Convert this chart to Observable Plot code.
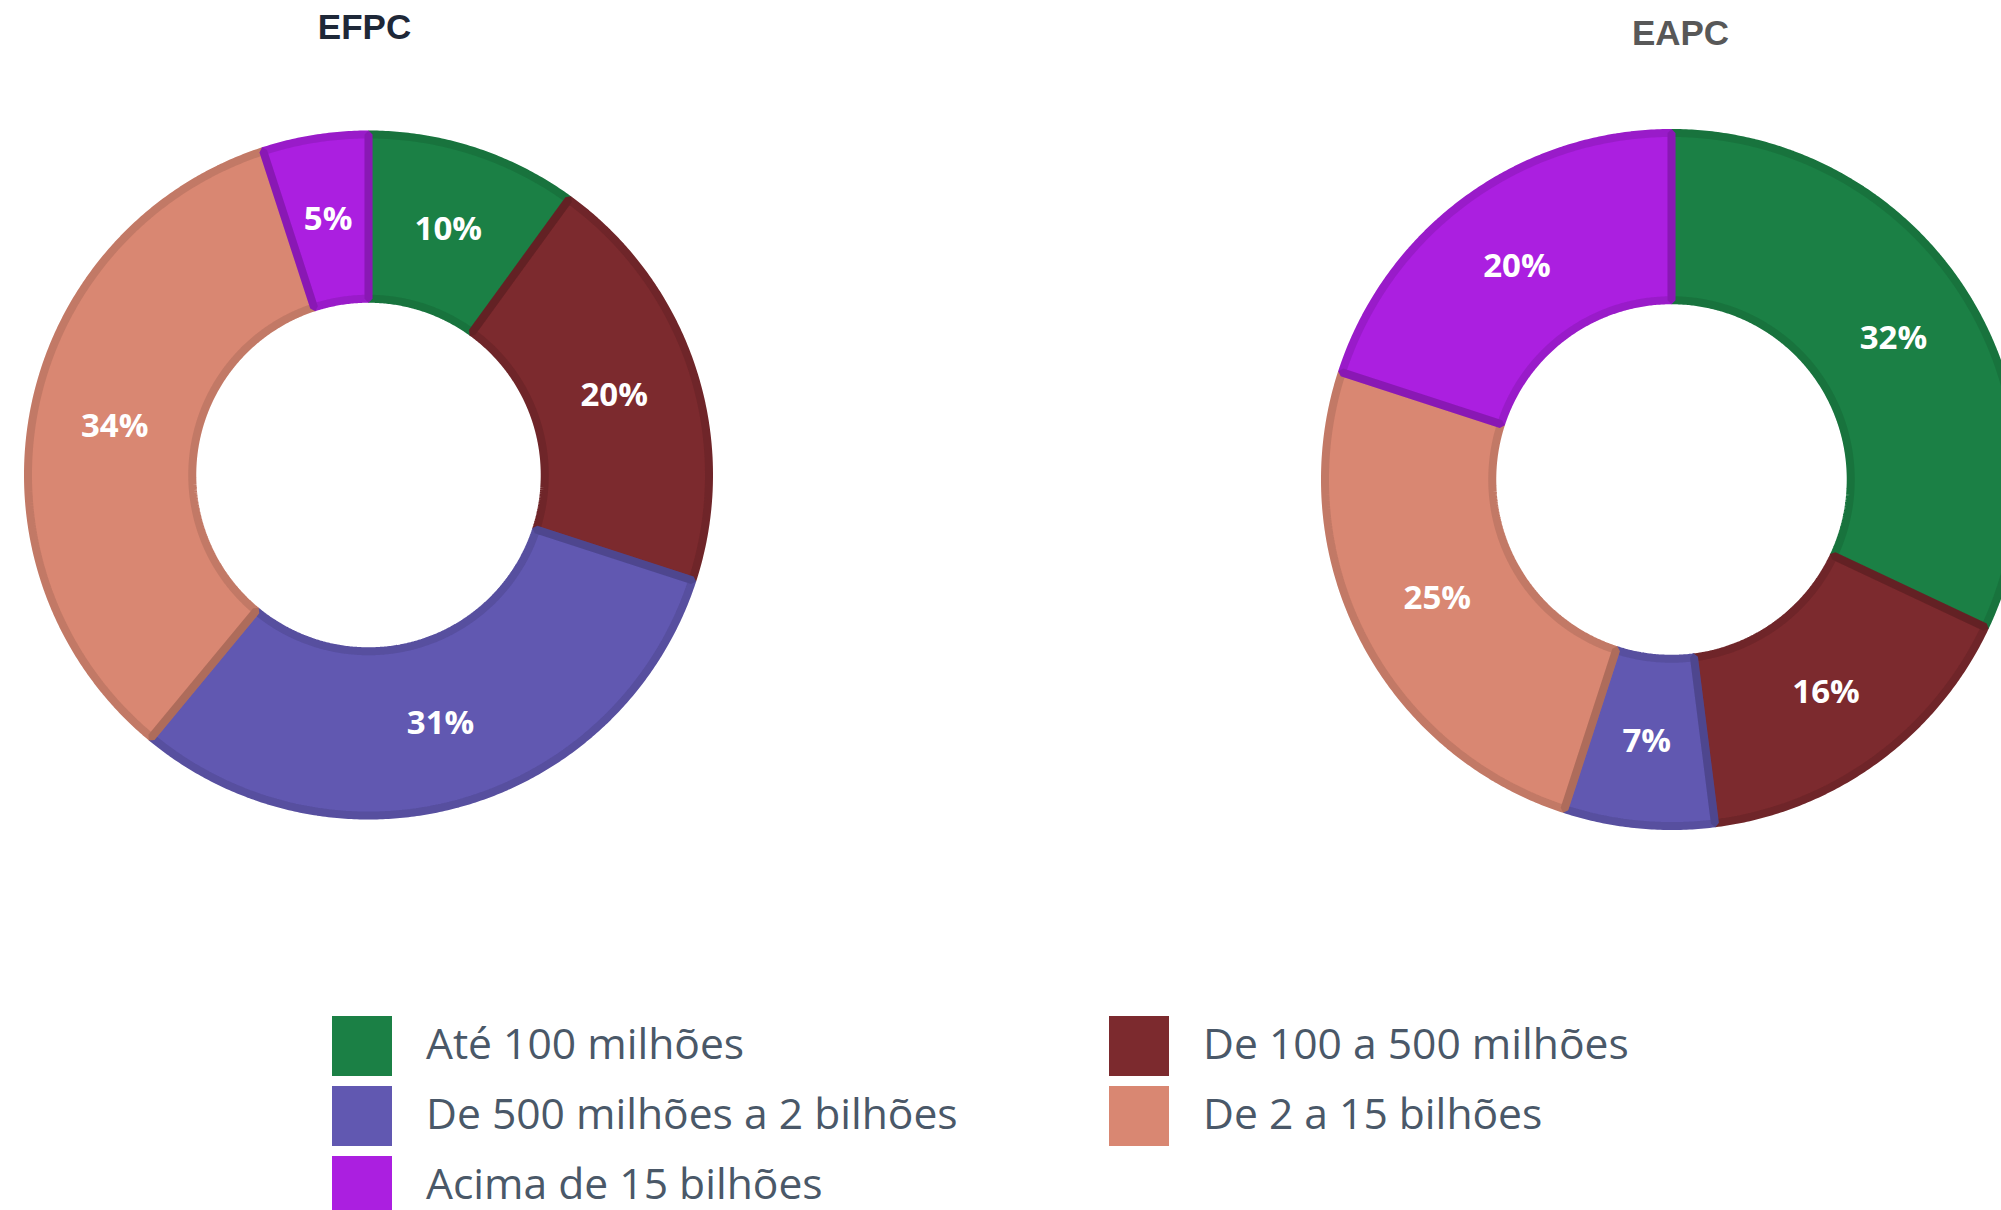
<!DOCTYPE html>
<html>
<head>
<meta charset="utf-8">
<script src="https://cdn.jsdelivr.net/npm/d3@7"></script>
<script src="https://cdn.jsdelivr.net/npm/@observablehq/plot@0.6"></script>
<style>
  html, body { margin: 0; padding: 0; background: #fff; overflow: hidden; width: 2001px; height: 1210px; }
  #chart { position: relative; width: 2001px; height: 1210px; overflow: hidden; }
  #chart svg { position: absolute; left: 0; top: 0; max-width: none; }
  #legend { position: absolute; left: 332px; top: 1016px; display: grid; grid-template-columns: 777px auto; row-gap: 10px;
            font-family: "Open Sans", sans-serif; font-size: 42.6px; color: #4a5868; }
  .item { display: flex; align-items: center; height: 60px; white-space: nowrap; }
  .sw { width: 60px; height: 60px; margin-right: 34px; flex: none; }
  .lbl { position: relative; top: -4px; }
</style>
</head>
<body>
<div id="chart"></div>
<script>
// ---- data ----
const categories = ["Até 100 milhões", "De 100 a 500 milhões", "De 500 milhões a 2 bilhões", "De 2 a 15 bilhões", "Acima de 15 bilhões"];
const colors = ["#1b8045", "#7c2a2e", "#6158b1", "#d98772", "#ab1fe0"];
const efpcValues = [10, 20, 31, 34, 5];
const eapcValues = [32, 16, 7, 25, 20];
const chartTitles = ["EFPC", "EAPC"];

// ---- layout ----
const W = 2001, H = 1000;
const layout = [
  { title: chartTitles[0], values: efpcValues, cx: 368, cy: 474.5, r: 344.5, tx: 364, ty: 27.5, tcolor: "#1e2838" },
  { title: chartTitles[1], values: eapcValues, cx: 1671, cy: 479, r: 350.5, tx: 1680, ty: 33, tcolor: "#585858" }
];
const SW = 8; // stroke width

const pie = d3.pie().sort(null).value(d => d);
const points = [];
const labels = [];
const titles = [];
layout.forEach((L, ci) => {
  titles.push({ title: L.title, x: L.tx, y: L.ty, color: L.tcolor });
  const ro = L.r - SW / 2;
  const ri = L.r * 0.5 + SW / 2;
  pie(L.values).forEach((a, i) => {
    const key = L.title + "-" + i;
    const n = Math.max(8, Math.ceil((a.endAngle - a.startAngle) * 120));
    for (let k = 0; k <= n; k++) {
      const t = a.startAngle + (a.endAngle - a.startAngle) * k / n;
      points.push({ key, cat: categories[i], x: L.cx + ro * Math.sin(t), y: L.cy - ro * Math.cos(t) });
    }
    for (let k = n; k >= 0; k--) {
      const t = a.startAngle + (a.endAngle - a.startAngle) * k / n;
      points.push({ key, cat: categories[i], x: L.cx + ri * Math.sin(t), y: L.cy - ri * Math.cos(t) });
    }
    const mid = (a.startAngle + a.endAngle) / 2;
    const rm = (L.r + L.r * 0.5) / 2;
    labels.push({ text: a.data + "%", x: L.cx + rm * Math.sin(mid), y: L.cy - rm * Math.cos(mid) });
  });
});

const plot = Plot.plot({
  width: W, height: H, margin: 0,
  style: { background: "white", overflow: "hidden" },
  x: { domain: [0, W], range: [0, W], axis: null },
  y: { domain: [0, H], range: [0, H], axis: null },
  color: { domain: categories, range: colors },
  marks: [
    Plot.line(points, { x: "x", y: "y", z: "key", fill: "cat", stroke: "cat", strokeWidth: SW, curve: "linear-closed", strokeLinejoin: "miter" }),
    Plot.line(points, { x: "x", y: "y", z: "key", fill: "none", stroke: "black", strokeOpacity: 0.1, strokeWidth: SW, curve: "linear-closed", strokeLinejoin: "miter" }),
    Plot.text(labels, { x: "x", y: "y", text: "text", fill: "white", fontSize: 33, fontWeight: "bold", fontFamily: "Open Sans", lineAnchor: "middle" }),
    Plot.text(titles, { x: "x", y: "y", text: "title", fill: d => d.color, fontSize: 35, fontWeight: "bold", fontFamily: "Liberation Sans", lineAnchor: "middle", letterSpacing: "0.6px" })
  ]
});
document.getElementById("chart").appendChild(plot);

// ---- legend ----
const legend = document.createElement("div");
legend.id = "legend";
categories.forEach((c, i) => {
  const item = document.createElement("div");
  item.className = "item";
  const sw = document.createElement("div");
  sw.className = "sw";
  sw.style.background = colors[i];
  const lbl = document.createElement("span");
  lbl.className = "lbl";
  lbl.textContent = c;
  item.appendChild(sw);
  item.appendChild(lbl);
  legend.appendChild(item);
});
document.getElementById("chart").appendChild(legend);
</script>
</body>
</html>
